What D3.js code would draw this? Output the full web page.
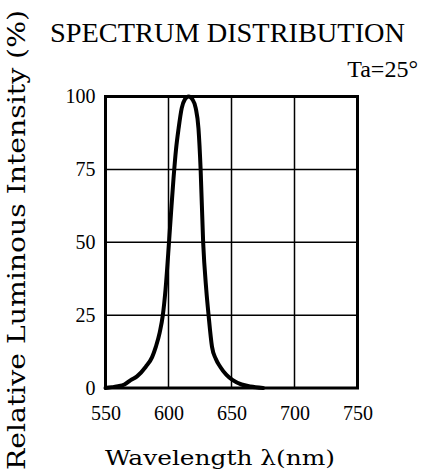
<!DOCTYPE html>
<html>
<head>
<meta charset="utf-8">
<script src="https://cdn.jsdelivr.net/npm/d3@7"></script>
<style>
  html, body { margin: 0; padding: 0; background: #fff; }
  svg { display: block; }
  .serif { font-family: "Liberation Serif", "Tinos", "Times New Roman", "Nimbus Roman", "Nimbus Roman No9 L", "FreeSerif", "Noto Serif", "DejaVu Serif", serif; }
  .wide { font-family: "DejaVu Serif", "Noto Serif", "Century Schoolbook L", "C059", "Liberation Serif", serif; }
</style>
</head>
<body>
<svg id="chart" width="422" height="474"></svg>
<script>
const wavelength = [550, 555, 560, 565, 570, 575, 582, 587, 590, 593, 595.5, 597.6, 600.4, 602, 604, 606, 608, 610.5, 613, 616, 619, 621.6, 623.8, 625.5, 627.5, 630, 631.8, 634.5, 637.5, 641, 646, 651, 658, 665, 675];
const intensity  = [0, 0.3, 0.6, 1.2, 2.7, 4, 7.3, 10.6, 14.2, 19, 25, 33.6, 50, 60, 72, 82, 89, 96, 99, 100, 99, 96, 89, 75, 50, 33.6, 25, 14.2, 10, 7.3, 4.5, 2.7, 1.2, 0.5, 0];
const xTicks = [550, 600, 650, 700, 750];
const yTicks = [0, 25, 50, 75, 100];
const titleText = "SPECTRUM DISTRIBUTION";
const condText = "Ta=25\u00B0";
const xTitle = "Wavelength \u03BB(nm)";
const yTitle = "Relative Luminous Intensity (%)";

const svg = d3.select("#chart");
const x = d3.scaleLinear().domain([550, 750]).range([105.5, 357.5]);
const y = d3.scaleLinear().domain([0, 100]).range([388, 96.5]);

// grid
svg.append("g").selectAll("line").data(yTicks.slice(1, -1)).join("line")
  .attr("x1", x(550)).attr("x2", x(750)).attr("y1", d => y(d)).attr("y2", d => y(d))
  .attr("stroke", "#000").attr("stroke-width", 1.5);
svg.append("g").selectAll("line").data(xTicks.slice(1, -1)).join("line")
  .attr("y1", y(0)).attr("y2", y(100)).attr("x1", d => x(d)).attr("x2", d => x(d))
  .attr("stroke", "#000").attr("stroke-width", 1.5);

// frame
svg.append("rect")
  .attr("x", x(550)).attr("y", y(100))
  .attr("width", x(750) - x(550)).attr("height", y(0) - y(100))
  .attr("fill", "none").attr("stroke", "#000").attr("stroke-width", 3);

// curve
const pts = wavelength.map((w, i) => [w, intensity[i]]);
const line = d3.line().x(d => x(d[0])).y(d => y(d[1])).curve(d3.curveMonotoneX);
svg.append("path").datum(pts).attr("d", line)
  .attr("fill", "none").attr("stroke", "#000").attr("stroke-width", 4)
  .attr("stroke-linejoin", "round").attr("stroke-linecap", "round");

// axes (labels only, via d3 axes)
const xAxis = svg.append("g").attr("transform", `translate(0,${y(0)})`)
  .call(d3.axisBottom(x).tickValues(xTicks).tickSize(0).tickPadding(18));
xAxis.attr("font-family", null).attr("font-size", null);
xAxis.select(".domain").remove();
xAxis.selectAll("text").attr("class", "serif").style("font-size", "20px").attr("fill", "#000");

const yAxis = svg.append("g").attr("transform", `translate(${x(550)},0)`)
  .call(d3.axisLeft(y).tickValues(yTicks).tickSize(0).tickPadding(10));
yAxis.attr("font-family", null).attr("font-size", null);
yAxis.select(".domain").remove();
yAxis.selectAll("text").attr("class", "serif").style("font-size", "20px").attr("fill", "#000");

// titles
svg.append("text").attr("class", "serif").attr("x", 50).attr("y", 42)
  .style("font-size", "27px")
  .attr("textLength", 355).attr("lengthAdjust", "spacingAndGlyphs")
  .text(titleText);
svg.append("text").attr("class", "serif").attr("x", 418).attr("y", 77).attr("text-anchor", "end")
  .style("font-size", "24px")
  .text(condText);
svg.append("text").attr("class", "wide").attr("x", 105).attr("y", 465)
  .style("font-size", "20px")
  .attr("textLength", 230).attr("lengthAdjust", "spacingAndGlyphs")
  .text(xTitle);
svg.append("text").attr("class", "wide").attr("transform", "translate(25,470) rotate(-90)")
  .style("font-size", "24px")
  .attr("textLength", 460).attr("lengthAdjust", "spacingAndGlyphs")
  .text(yTitle);
</script>
</body>
</html>
